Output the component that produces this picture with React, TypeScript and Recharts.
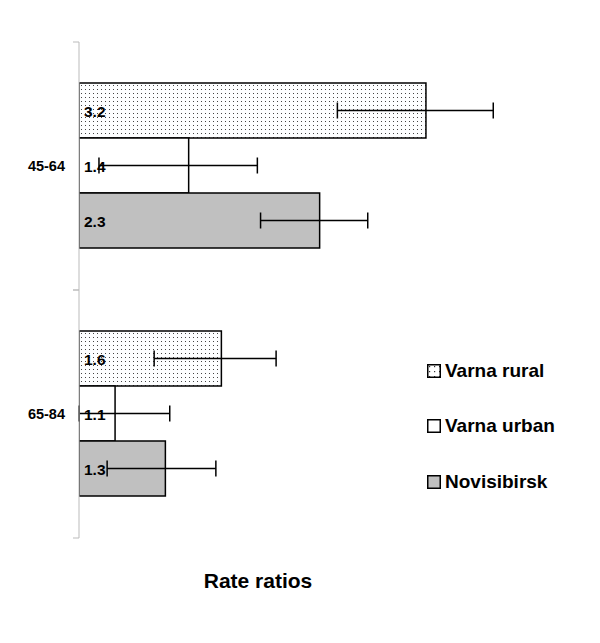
import React from 'react';
import { BarChart, Bar, XAxis, YAxis, ErrorBar, LabelList, Legend } from 'recharts';

const ageGroups = ['45-64', '65-84'];

// rate ratios, log scale from 1
const varnaRural = [3.24, 1.62];
const varnaUrban = [1.45, 1.13];
const novisibirsk = [2.26, 1.34];

// 95% CI
const ruralLow = [2.4, 1.29];
const ruralHigh = [4.07, 1.95];
const urbanLow = [1.07, 1.0];
const urbanHigh = [1.83, 1.36];
const novLow = [1.85, 1.1];
const novHigh = [2.66, 1.59];

const W = 600;
const H = 643;
const AXIS_W = 79;
const TOP = 42;
const BOTTOM = 105;
const BAND_HALF = (H - TOP - BOTTOM) / ageGroups.length / 2;
const FONT = '"Liberation Sans", Arial, sans-serif';

const data = ageGroups.map((age, i) => ({
  age,
  rural: varnaRural[i],
  ruralErr: [varnaRural[i] - ruralLow[i], ruralHigh[i] - varnaRural[i]],
  urban: varnaUrban[i],
  urbanErr: [varnaUrban[i] - urbanLow[i], urbanHigh[i] - varnaUrban[i]],
  nov: novisibirsk[i],
  novErr: [novisibirsk[i] - novLow[i], novHigh[i] - novisibirsk[i]],
}));

const series = [
  { key: 'rural', name: 'Varna rural', fill: 'url(#dots)' },
  { key: 'urban', name: 'Varna urban', fill: '#ffffff' },
  { key: 'nov', name: 'Novisibirsk', fill: '#c0c0c0' },
];

const AgeTick = (props: any) => {
  const { y, payload } = props;
  return (
    <g>
      <line x1={AXIS_W - 6} x2={AXIS_W} y1={y - BAND_HALF} y2={y - BAND_HALF} stroke="#bbb" />
      <line x1={AXIS_W - 6} x2={AXIS_W} y1={y + BAND_HALF} y2={y + BAND_HALF} stroke="#bbb" />
      <text x={AXIS_W - 14} y={y} dy={5} textAnchor="end" fontFamily={FONT} fontWeight="bold" fontSize={14.5} fill="#000">
        {payload.value}
      </text>
    </g>
  );
};

const ValueLabel = (props: any) => {
  const { x, y, height, value } = props;
  return (
    <text x={x + 5} y={y + height / 2} dy={6} fontFamily={FONT} fontWeight="bold" fontSize={15.5} fill="#000">
      {Number(value).toFixed(1)}
    </text>
  );
};

const LegendBox = () => (
  <div style={{ fontFamily: FONT, fontWeight: 'bold', fontSize: 19 }}>
    {series.map((s) => (
      <div key={s.key} style={{ display: 'flex', alignItems: 'center', height: 55.5 }}>
        <svg width={14} height={14} style={{ marginRight: 4 }}>
          <defs>
            <pattern id={`lg-${s.key}`} width={5} height={5} patternUnits="userSpaceOnUse">
              <rect width={5} height={5} fill="#fff" />
              <rect x={2} y={2} width={1.2} height={1.2} fill="#333" />
            </pattern>
          </defs>
          <rect x={0.75} y={0.75} width={12.5} height={12.5} fill={s.key === 'rural' ? `url(#lg-${s.key})` : s.fill} stroke="#000" strokeWidth={1.5} />
        </svg>
        <span>{s.name}</span>
      </div>
    ))}
  </div>
);

export default function App() {
  return (
    <div style={{ position: 'absolute', left: 0, top: 0, width: W, height: H, background: '#fff' }}>
      <BarChart
        width={W}
        height={H}
        data={data}
        layout="vertical"
        margin={{ top: TOP, right: 46, left: 0, bottom: BOTTOM - 40 }}
        barCategoryGap={41}
        barGap={0}
      >
        <defs>
          <pattern id="dots" width={4} height={4} patternUnits="userSpaceOnUse">
            <rect width={4} height={4} fill="#fdfeff" />
            <rect x={1} y={1} width={1} height={1} fill="#444" />
          </pattern>
        </defs>
        <XAxis
          type="number"
          scale="log"
          domain={[1, 5]}
          allowDataOverflow
          height={40}
          axisLine={false}
          tickLine={false}
          tick={false}
          label={{
            content: () => (
              <text x={258} y={588} textAnchor="middle" fontFamily={FONT} fontWeight="bold" fontSize={21} fill="#000">
                Rate ratios
              </text>
            ),
          }}
        />
        <YAxis
          type="category"
          dataKey="age"
          width={AXIS_W}
          axisLine={{ stroke: '#bbb' }}
          tickLine={false}
          tick={<AgeTick />}
        />
        <Legend
          layout="vertical"
          align="center"
          verticalAlign="middle"
          content={<LegendBox />}
          wrapperStyle={{ position: 'absolute', left: 427, top: 343, width: 170 }}
        />
        {series.map((s) => (
          <Bar
            key={s.key}
            dataKey={s.key}
            name={s.name}
            fill={s.fill}
            stroke="#000"
            strokeWidth={1.5}
            isAnimationActive={false}
          >
            <ErrorBar dataKey={`${s.key}Err`} direction="x" width={8} stroke="#000" strokeWidth={1.5} />
            <LabelList dataKey={s.key} content={<ValueLabel />} />
          </Bar>
        ))}
      </BarChart>
    </div>
  );
}
